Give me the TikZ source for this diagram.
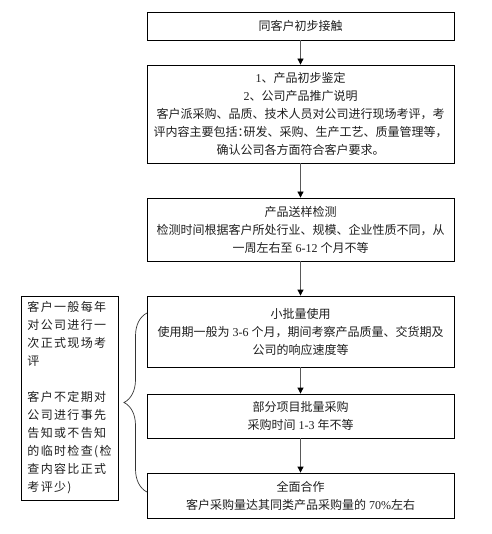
\documentclass[tikz,border=0pt]{standalone}
\usepackage{fontspec}
\setmainfont{Noto Sans CJK SC}
\newfontfamily\lat{Liberation Serif}
\usetikzlibrary{arrows.meta,decorations.pathreplacing}
\makeatletter
\newcommand\spaced[1]{\@tfor\spx:=#1\do{\spx\hspace{1.33pt}}\unskip}
\makeatother
\tikzset{
  box/.style={draw=black, line width=0.8pt, minimum width=307pt, align=center, inner sep=0pt,
    text=black!88, font=\fontsize{12pt}{18pt}\selectfont},
  sidebox/.style={draw=black, line width=0.8pt, minimum width=97pt, minimum height=204pt, align=left, inner sep=0pt,
    text=black!88, font=\fontsize{12pt}{18pt}\selectfont},
  arr/.style={draw=black!65, line width=0.8pt, -{Triangle[length=6pt,width=6pt,color=black]}},
  bracestyle/.style={draw=black!80, line width=0.7pt, decorate, decoration={brace, amplitude=23pt}}
}
\begin{document}
\begin{tikzpicture}[x=1pt,y=-1pt]
\useasboundingbox[fill=white] (0,0) rectangle (491,534);
\node[box, minimum height=28pt] (b1) at (300.5,26) {同客户初步接触};
\node[box, minimum height=98pt] (b2) at (300.5,114) {{\lat 1}、产品初步鉴定\\{\lat 2}、公司产品推广说明\\客户派采购、品质、技术人员对公司进行现场考评，考\\评内容主要包括：\hspace{-6pt}研发、采购、生产工艺、质量管理等，\hspace{-6pt}\\确认公司各方面符合客户要求。};
\node[box, minimum height=63pt] (b3) at (300.5,229.5) {产品送样检测\\检测时间根据客户所处行业、规模、企业性质不同，从\\一周左右至{\lat\ 6-12 }个月不等};
\node[box, minimum height=71pt] (b4) at (300.5,331.5) {小批量使用\\使用期一般为{\lat\ 3-6 }个月，期间考察产品质量、交货期及\\公司的响应速度等};
\node[box, minimum height=44pt] (b5) at (300.5,416) {部分项目批量采购\\采购时间{\lat\ 1-3 }年不等};
\node[box, minimum height=45pt] (b6) at (300.5,495.5) {全面合作\\客户采购量达其同类产品采购量的{\lat\ 70\%}左右};
\node[sidebox] (side) at (69.5,398) {\spaced{客户一般每年}\\\spaced{对公司进行一}\\\spaced{次正式现场考}\\\spaced{评}\\[18pt]\spaced{客户不定期对}\\\spaced{公司进行事先}\\\spaced{告知或不告知}\\\spaced{的临时检查(检}\\\spaced{查内容比正式}\\\spaced{考评少)}};
\draw[arr] (b1.south) -- (b2.north);
\draw[arr] (b2.south) -- (b3.north);
\draw[arr] (b3.south) -- (b4.north);
\draw[arr] (b4.south) -- (b5.north);
\draw[arr] (b5.south) -- (b6.north);
\coordinate (bt) at (147,313);
\coordinate (bb) at (147,492);
\draw[bracestyle] (bb) -- (bt);
\end{tikzpicture}
\end{document}
